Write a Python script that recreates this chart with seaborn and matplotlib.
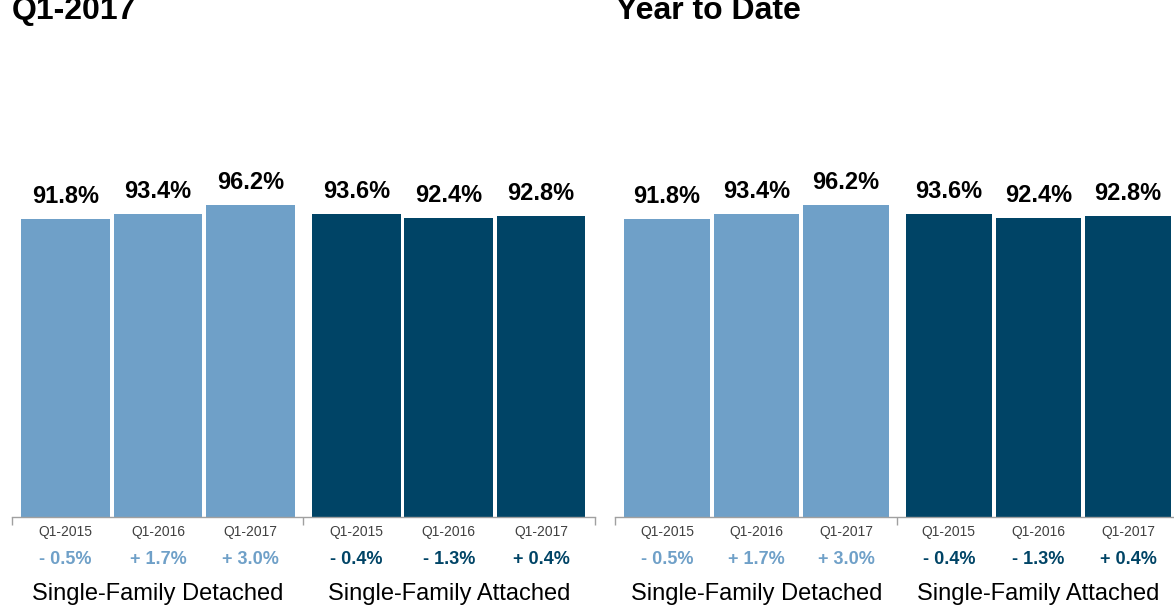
import matplotlib
matplotlib.use("Agg")
import matplotlib.pyplot as plt
import seaborn as sns
import pandas as pd

# ---------------- data ----------------
panel_titles = ["Q1-2017", "Year to Date"]
segments = ["Single-Family Detached", "Single-Family Attached"]
periods = ["Q1-2015", "Q1-2016", "Q1-2017"]

q1_detached = [91.8, 93.4, 96.2]
q1_attached = [93.6, 92.4, 92.8]
ytd_detached = [91.8, 93.4, 96.2]
ytd_attached = [93.6, 92.4, 92.8]

q1_detached_change = ["- 0.5%", "+ 1.7%", "+ 3.0%"]
q1_attached_change = ["- 0.4%", "- 1.3%", "+ 0.4%"]
ytd_detached_change = ["- 0.5%", "+ 1.7%", "+ 3.0%"]
ytd_attached_change = ["- 0.4%", "- 1.3%", "+ 0.4%"]

# ---------------- style ----------------
sns.set_style("white")
plt.rcParams["font.family"] = ["Liberation Sans", "DejaVu Sans"]

LIGHT = "#6FA0C8"
DARK = "#004466"
palette = {segments[0]: LIGHT, segments[1]: DARK}

GROUP_GAP = 1.147  # layout: distance between last bar of group 1 and first of group 2
positions = [0, 1, 2, 2 + GROUP_GAP, 3 + GROUP_GAP, 4 + GROUP_GAP]
XLIM = (-0.576, 5.727)

W, H = 1174, 608
fig = plt.figure(figsize=(W / 100, H / 100), dpi=100)

bottom = (H - 516.7) / H
height = 323.8 / H
axes_boxes = [
    [12.3 / W, bottom, 582.4 / W, height],
    [615.3 / W, bottom, 564.7 / W, height],
]
title_x = [11.5 / W, 616 / W]

panels = [
    (q1_detached, q1_attached, q1_detached_change, q1_attached_change),
    (ytd_detached, ytd_attached, ytd_detached_change, ytd_attached_change),
]

for i, (det, att, det_ch, att_ch) in enumerate(panels):
    ax = fig.add_axes(axes_boxes[i])
    df = pd.DataFrame({
        "pos": positions,
        "value": det + att,
        "segment": [segments[0]] * 3 + [segments[1]] * 3,
        "period": periods + periods,
        "change": det_ch + att_ch,
    })
    sns.barplot(data=df, x="pos", y="value", hue="segment", palette=palette,
                native_scale=True, width=0.957, dodge=False, legend=False,
                saturation=1, ax=ax, errorbar=None, linewidth=0)
    ax.set_xlim(*XLIM)
    ax.set_ylim(0, 100)
    for s in ["top", "right", "left"]:
        ax.spines[s].set_visible(False)
    ax.spines["bottom"].set_color("#A0A0A0")
    ax.spines["bottom"].set_linewidth(1.0)
    ax.set_yticks([])
    sep = (positions[2] + positions[3]) / 2
    ax.set_xticks([XLIM[0] + 0.001, sep, XLIM[1] - 0.001])
    ax.set_xticklabels([])
    ax.tick_params(axis="x", direction="out", length=5.8, width=1.0,
                   color="#A0A0A0", bottom=True)
    ax.set_xlabel("")
    ax.set_ylabel("")

    for _, r in df.iterrows():
        col = LIGHT if r["segment"] == segments[0] else DARK
        ax.annotate(f"{r['value']:.1f}%", xy=(r["pos"], r["value"]),
                    xytext=(0, 11.5), textcoords="offset points",
                    ha="center", va="baseline", fontsize=17,
                    fontweight="bold", color="black", annotation_clip=False)
        ax.annotate(r["period"], xy=(r["pos"], 0), xytext=(0, -11.0),
                    textcoords="offset points", ha="center", va="center",
                    fontsize=10, color="#404040", annotation_clip=False)
        ax.annotate(r["change"], xy=(r["pos"], 0), xytext=(0, -31.0),
                    textcoords="offset points", ha="center", va="center",
                    fontsize=13, fontweight="bold", color=col,
                    annotation_clip=False)
    for g, seg in enumerate(segments):
        cx = sum(positions[g * 3:(g + 1) * 3]) / 3
        ax.annotate(seg, xy=(cx, 0), xytext=(0, -55.8), textcoords="offset points",
                    ha="center", va="center", fontsize=17, color="black",
                    annotation_clip=False)

    fig.text(title_x[i], 1 - 19 / H, panel_titles[i], ha="left", va="baseline",
             fontsize=23, fontweight="bold", color="black",
             family=["Liberation Sans Narrow", "Liberation Sans", "DejaVu Sans"])

fig.savefig("out.png", dpi=100)
